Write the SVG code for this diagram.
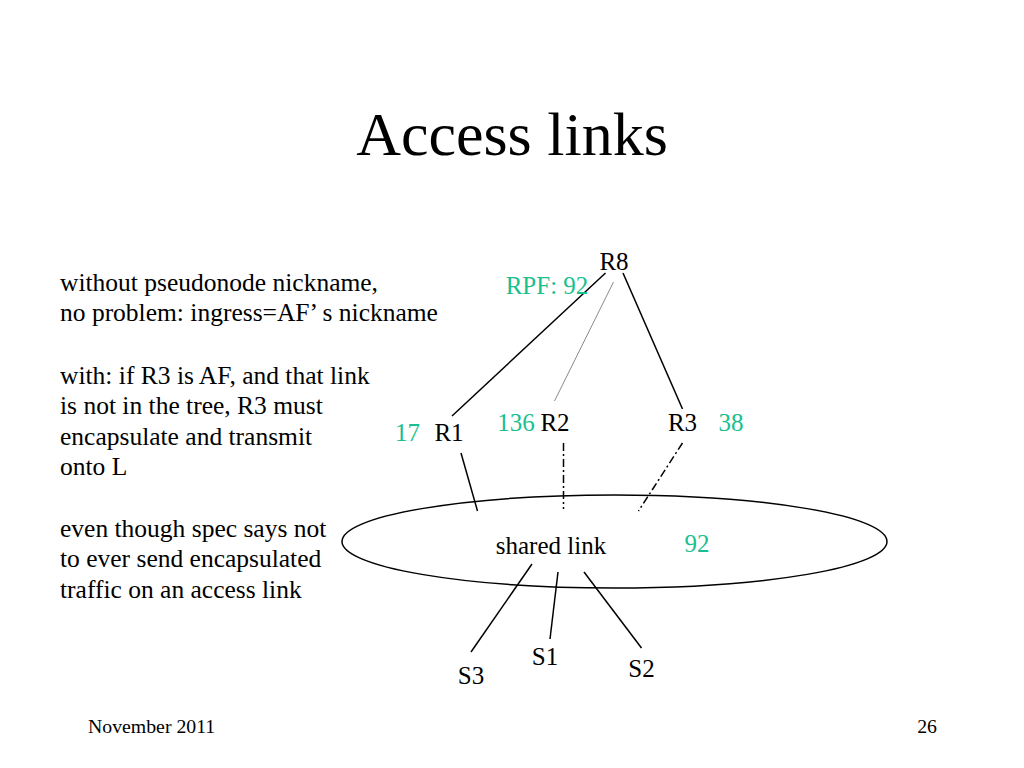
<svg xmlns="http://www.w3.org/2000/svg" width="1024" height="768" viewBox="0 0 1024 768">
  <style>
    text { font-family: "Liberation Serif", "Times New Roman", serif; fill: #000; }
    .title { font-size: 62px; }
    .body { font-size: 25.5px; }
    .lbl { font-size: 25px; }
    .num { font-size: 25px; fill: #19BF8F; }
    .foot { font-size: 19.8px; }
    .ln { stroke: #000; stroke-width: 1.5; fill: none; }
    .thin { stroke: #8a8a8a; stroke-width: 1; fill: none; }
    .dd { stroke: #000; stroke-width: 1.5; fill: none; stroke-dasharray: 8 3 2 3; }
  </style>
  <rect width="1024" height="768" fill="#fff"/>
  <text class="title" x="512" y="155" text-anchor="middle">Access links</text>

  <g id="notes">
    <text class="body" x="60" y="290.5">without pseudonode nickname,</text>
    <text class="body" x="60" y="320.5">no problem: ingress=AF’ s nickname</text>
    <text class="body" x="60" y="383.5">with: if R3 is AF, and that link</text>
    <text class="body" x="60" y="414">is not in the tree, R3 must</text>
    <text class="body" x="60" y="444.5">encapsulate and transmit</text>
    <text class="body" x="60" y="474.5">onto L</text>
    <text class="body" x="60" y="536.5">even though spec says not</text>
    <text class="body" x="60" y="567">to ever send encapsulated</text>
    <text class="body" x="60" y="597.5">traffic on an access link</text>
  </g>

  <g id="connectors">
    <line class="ln" x1="605.5" y1="273" x2="452" y2="416"/>
    <line class="thin" x1="613.5" y1="282" x2="554.5" y2="401"/>
    <line class="ln" x1="623" y1="273" x2="682.5" y2="409"/>
    <line class="ln" x1="461" y1="453" x2="477.5" y2="511"/>
    <line class="dd" x1="563.5" y1="443" x2="563.5" y2="509"/>
    <line class="dd" x1="682.5" y1="443" x2="638.5" y2="511"/>
    <line class="ln" x1="532" y1="564" x2="471" y2="652"/>
    <line class="ln" x1="558" y1="572" x2="550" y2="639"/>
    <line class="ln" x1="584" y1="572" x2="641.5" y2="648"/>
  </g>

  <g id="shared-link">
    <ellipse class="ln" cx="614.5" cy="541.5" rx="272.5" ry="46.5"/>
    <text class="lbl" x="551" y="554" text-anchor="middle">shared link</text>
    <text class="num" x="697" y="552" text-anchor="middle">92</text>
  </g>

  <g id="R8">
    <text class="lbl" x="614" y="270" text-anchor="middle">R8</text>
    <text class="num" x="547" y="294" text-anchor="middle">RPF: 92</text>
  </g>
  <g id="R1">
    <text class="lbl" x="449" y="441" text-anchor="middle">R1</text>
    <text class="num" x="407.5" y="441" text-anchor="middle">17</text>
  </g>
  <g id="R2">
    <text class="lbl" x="555" y="431" text-anchor="middle">R2</text>
    <text class="num" x="516" y="431" text-anchor="middle">136</text>
  </g>
  <g id="R3">
    <text class="lbl" x="682.5" y="431" text-anchor="middle">R3</text>
    <text class="num" x="731" y="431" text-anchor="middle">38</text>
  </g>
  <g id="S3"><text class="lbl" x="471" y="684" text-anchor="middle">S3</text></g>
  <g id="S1"><text class="lbl" x="545" y="665" text-anchor="middle">S1</text></g>
  <g id="S2"><text class="lbl" x="641.5" y="677" text-anchor="middle">S2</text></g>

  <text class="foot" x="88" y="733">November 2011</text>
  <text class="foot" x="937" y="733" text-anchor="end">26</text>
</svg>
